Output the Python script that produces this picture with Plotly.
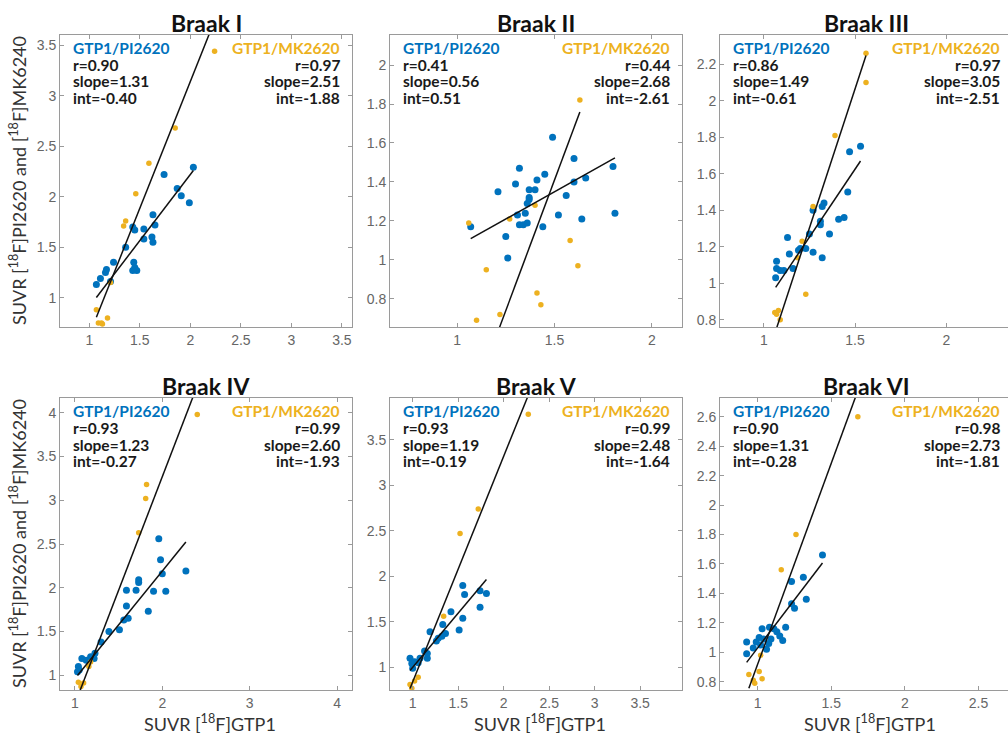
import plotly.graph_objects as go

# ---------------- data ----------------
panel_titles = ["Braak I", "Braak II", "Braak III", "Braak IV", "Braak V", "Braak VI"]

b1_pi_x = [1.07, 1.11, 1.16, 1.17, 1.21, 1.24, 1.36, 1.43, 1.45, 1.44, 1.45, 1.47, 1.43, 1.54, 1.54, 1.62, 1.63, 1.63, 1.65, 1.74, 1.87, 1.91, 1.99, 2.03]
b1_pi_y = [1.13, 1.19, 1.25, 1.28, 1.16, 1.35, 1.50, 1.70, 1.67, 1.35, 1.30, 1.27, 1.27, 1.68, 1.58, 1.60, 1.55, 1.82, 1.72, 2.22, 2.08, 2.01, 1.94, 2.29]
b1_mk_x = [1.07, 1.09, 1.12, 1.13, 1.18, 1.21, 1.34, 1.36, 1.46, 1.59, 1.85, 2.24]
b1_mk_y = [0.88, 0.75, 0.75, 0.74, 0.80, 1.15, 1.71, 1.76, 2.03, 2.33, 2.68, 3.44]

b2_pi_x = [1.07, 1.21, 1.25, 1.26, 1.30, 1.32, 1.31, 1.32, 1.34, 1.36, 1.35, 1.37, 1.37, 1.36, 1.37, 1.40, 1.41, 1.44, 1.45, 1.49, 1.52, 1.56, 1.60, 1.60, 1.64, 1.66, 1.80, 1.81]
b2_pi_y = [1.17, 1.35, 1.12, 1.01, 1.39, 1.47, 1.23, 1.18, 1.18, 1.19, 1.24, 1.32, 1.31, 1.29, 1.36, 1.36, 1.41, 1.17, 1.44, 1.63, 1.23, 1.33, 1.52, 1.40, 1.21, 1.42, 1.48, 1.24]
b2_mk_x = [1.06, 1.10, 1.15, 1.22, 1.27, 1.40, 1.41, 1.43, 1.58, 1.62, 1.63]
b2_mk_y = [1.19, 0.69, 0.95, 0.72, 1.21, 1.28, 0.83, 0.77, 1.10, 0.97, 1.82]

b3_pi_x = [1.065, 1.07, 1.07, 1.09, 1.11, 1.16, 1.13, 1.14, 1.19, 1.20, 1.23, 1.25, 1.27, 1.27, 1.32, 1.33, 1.31, 1.31, 1.32, 1.36, 1.41, 1.44, 1.46, 1.47, 1.53]
b3_pi_y = [1.03, 1.12, 1.08, 1.07, 1.07, 1.08, 1.25, 1.16, 1.18, 1.19, 1.19, 1.27, 1.17, 1.40, 1.42, 1.44, 1.34, 1.32, 1.14, 1.27, 1.35, 1.36, 1.50, 1.72, 1.75]
b3_mk_x = [1.06, 1.07, 1.09, 1.08, 1.185, 1.21, 1.23, 1.27, 1.39, 1.56, 1.56]
b3_mk_y = [0.84, 0.83, 0.80, 0.85, 1.14, 1.23, 0.94, 1.42, 1.81, 2.10, 2.26]

b4_pi_x = [1.03, 1.04, 1.05, 1.08, 1.13, 1.18, 1.22, 1.23, 1.30, 1.39, 1.51, 1.56, 1.61, 1.59, 1.59, 1.70, 1.73, 1.73, 1.84, 1.90, 1.96, 1.98, 2.00, 2.04, 2.27]
b4_pi_y = [1.04, 1.10, 1.06, 1.19, 1.17, 1.21, 1.19, 1.25, 1.38, 1.50, 1.52, 1.63, 1.65, 1.79, 1.97, 1.97, 2.06, 2.09, 1.73, 1.96, 2.56, 2.32, 2.16, 1.96, 2.19]
b4_mk_x = [1.04, 1.10, 1.07, 1.16, 1.18, 1.73, 1.81, 1.82, 2.40]
b4_mk_y = [0.92, 0.91, 0.87, 1.10, 1.15, 2.63, 3.02, 3.18, 3.98]

b5_pi_x = [0.97, 0.99, 1.02, 1.00, 1.06, 1.08, 1.13, 1.16, 1.16, 1.19, 1.26, 1.28, 1.32, 1.33, 1.36, 1.42, 1.51, 1.55, 1.55, 1.57, 1.74, 1.74, 1.81]
b5_pi_y = [1.10, 1.04, 1.06, 0.99, 1.05, 1.10, 1.18, 1.10, 1.15, 1.39, 1.29, 1.32, 1.34, 1.47, 1.37, 1.61, 1.41, 1.90, 1.54, 1.80, 1.84, 1.66, 1.81]
b5_mk_x = [0.97, 0.99, 1.06, 1.02, 1.34, 1.52, 1.72, 2.27]
b5_mk_y = [0.81, 0.77, 0.89, 0.85, 1.56, 2.47, 2.74, 3.78]

b6_pi_x = [0.925, 0.925, 0.97, 0.99, 1.01, 1.02, 1.04, 1.06, 1.075, 1.03, 1.08, 1.09, 1.11, 1.13, 1.15, 1.17, 1.19, 1.23, 1.23, 1.25, 1.31, 1.33, 1.44]
b6_pi_y = [0.99, 1.07, 1.03, 1.07, 1.10, 1.05, 1.09, 1.02, 1.06, 1.16, 1.17, 1.09, 1.16, 1.14, 1.11, 1.08, 1.17, 1.33, 1.48, 1.30, 1.51, 1.36, 1.66]
b6_mk_x = [0.94, 0.97, 0.98, 1.01, 1.03, 1.02, 1.16, 1.26, 1.68]
b6_mk_y = [0.85, 0.81, 0.79, 0.87, 0.82, 0.98, 1.56, 1.80, 2.60]

pi_r = [0.90, 0.41, 0.86, 0.93, 0.93, 0.90]
pi_slope = [1.31, 0.56, 1.49, 1.23, 1.19, 1.31]
pi_int = [-0.40, 0.51, -0.61, -0.27, -0.19, -0.28]
mk_r = [0.97, 0.44, 0.97, 0.99, 0.99, 0.98]
mk_slope = [2.51, 2.68, 3.05, 2.60, 2.48, 2.73]
mk_int = [-1.88, -2.61, -2.51, -1.93, -1.64, -1.81]

axis_lo = [0.71, 0.656, 0.76, 0.83, 0.75, 0.744]
axis_hi = [3.60, 2.154, 2.36, 4.17, 3.96, 2.727]
x_ticks = [[1, 1.5, 2, 2.5, 3, 3.5], [1, 1.5, 2], [1, 1.5, 2],
           [1, 2, 3, 4], [1, 1.5, 2, 2.5, 3, 3.5], [1, 1.5, 2, 2.5]]
y_ticks = [[1, 1.5, 2, 2.5, 3, 3.5], [0.8, 1, 1.2, 1.4, 1.6, 1.8, 2],
           [0.8, 1, 1.2, 1.4, 1.6, 1.8, 2, 2.2],
           [1, 1.5, 2, 2.5, 3, 3.5, 4], [1, 1.5, 2, 2.5, 3, 3.5],
           [0.8, 1, 1.2, 1.4, 1.6, 1.8, 2, 2.2, 2.4, 2.6]]

series_label_pi = "GTP1/PI2620"
series_label_mk = "GTP1/MK2620"
y_title = "SUVR [<sup>18</sup>F]PI2620 and [<sup>18</sup>F]MK6240"
x_title = "SUVR [<sup>18</sup>F]GTP1"

pi_xs = [b1_pi_x, b2_pi_x, b3_pi_x, b4_pi_x, b5_pi_x, b6_pi_x]
pi_ys = [b1_pi_y, b2_pi_y, b3_pi_y, b4_pi_y, b5_pi_y, b6_pi_y]
mk_xs = [b1_mk_x, b2_mk_x, b3_mk_x, b4_mk_x, b5_mk_x, b6_mk_x]
mk_ys = [b1_mk_y, b2_mk_y, b3_mk_y, b4_mk_y, b5_mk_y, b6_mk_y]

# ---------------- layout geometry ----------------
W, H = 1008, 738
BLUE = "#0072BD"
GOLD = "#EDB120"
TXT_FONT = "Lato"
col_left = [60, 390, 720]
row_top = [35, 398]
SIZE = 292

def fx(p):
    return p / W

def fy(p):
    return 1 - p / H

fig = go.Figure()
annotations = []
layout = dict(
    width=W, height=H, autosize=False,
    margin=dict(l=0, r=0, t=0, b=0),
    paper_bgcolor="white", plot_bgcolor="white",
    showlegend=False,
)

for i in range(6):
    r, c = divmod(i, 3)
    left = col_left[c]
    top = row_top[r]
    right_full = left + SIZE
    right = min(right_full, W)
    lo, hi = axis_lo[i], axis_hi[i]
    x_hi = lo + (hi - lo) * (right - left) / SIZE
    sfx = "" if i == 0 else str(i + 1)
    xa, ya = "x" + sfx, "y" + sfx

    common = dict(
        showgrid=False, zeroline=False, showline=True, linecolor="#9a9a9a",
        linewidth=1, ticks="inside", ticklen=4, tickcolor="#9a9a9a",
        tickfont=dict(family="Liberation Sans", size=14, color="#666666"),
    )
    layout["xaxis" + sfx] = dict(
        common, domain=[fx(left), fx(right)], range=[lo, x_hi],
        tickvals=x_ticks[i], anchor=ya, mirror="ticks",
    )
    layout["yaxis" + sfx] = dict(
        common, domain=[fy(top + SIZE), fy(top)], range=[lo, hi],
        tickvals=y_ticks[i], anchor=xa,
        mirror="ticks" if right == right_full else False,
    )

    fig.add_trace(go.Scatter(x=pi_xs[i], y=pi_ys[i], mode="markers", xaxis=xa, yaxis=ya,
                             marker=dict(color=BLUE, size=7, line=dict(width=0))))
    fig.add_trace(go.Scatter(x=mk_xs[i], y=mk_ys[i], mode="markers", xaxis=xa, yaxis=ya,
                             marker=dict(color=GOLD, size=5.5, line=dict(width=0))))
    px0, px1 = min(pi_xs[i]), max(pi_xs[i])
    fig.add_trace(go.Scatter(x=[px0, px1],
                             y=[pi_slope[i] * px0 + pi_int[i], pi_slope[i] * px1 + pi_int[i]],
                             mode="lines", xaxis=xa, yaxis=ya,
                             line=dict(color="#111111", width=1.5)))
    mx0, mx1 = min(mk_xs[i]), max(mk_xs[i])
    fig.add_trace(go.Scatter(x=[mx0, mx1],
                             y=[mk_slope[i] * mx0 + mk_int[i], mk_slope[i] * mx1 + mk_int[i]],
                             mode="lines", xaxis=xa, yaxis=ya,
                             line=dict(color="#111111", width=1.5)))

    # title
    annotations.append(dict(x=fx(left + SIZE / 2), y=fy(top - 12), xref="paper", yref="paper",
                            text="<b>%s</b>" % panel_titles[i], showarrow=False,
                            xanchor="center", yanchor="middle",
                            font=dict(family=TXT_FONT, size=23, color="#111111")))
    # stats text
    left_lines = [(series_label_pi, BLUE), ("r=%.2f" % pi_r[i], "#1a1a1a"),
                  ("slope=%.2f" % pi_slope[i], "#1a1a1a"), ("int=%.2f" % pi_int[i], "#1a1a1a")]
    right_lines = [(series_label_mk, GOLD), ("r=%.2f" % mk_r[i], "#1a1a1a"),
                   ("slope=%.2f" % mk_slope[i], "#1a1a1a"), ("int=%.2f" % mk_int[i], "#1a1a1a")]
    offs = [13, 30, 46.5, 63]
    for (t, col), o in zip(left_lines, offs):
        annotations.append(dict(x=fx(left + 11), y=fy(top + o), xref="paper", yref="paper",
                                text="<b>%s</b>" % t, showarrow=False, xanchor="left",
                                yanchor="middle",
                                font=dict(family=TXT_FONT, size=15.5, color=col)))
    for (t, col), o in zip(right_lines, offs):
        annotations.append(dict(x=fx(right_full - 10), y=fy(top + o), xref="paper", yref="paper",
                                text="<b>%s</b>" % t, showarrow=False, xanchor="right",
                                yanchor="middle",
                                font=dict(family=TXT_FONT, size=15.5, color=col)))
    if c == 0:
        annotations.append(dict(x=fx(18), y=fy(top + SIZE / 2), xref="paper", yref="paper",
                                text=y_title, showarrow=False, textangle=-90,
                                xanchor="center", yanchor="middle",
                                font=dict(family=TXT_FONT, size=18, color="#333333")))
    if r == 1:
        annotations.append(dict(x=fx(left + SIZE / 2 + 4), y=fy(723), xref="paper", yref="paper",
                                text=x_title, showarrow=False,
                                xanchor="center", yanchor="middle",
                                font=dict(family=TXT_FONT, size=18, color="#333333")))

layout["annotations"] = annotations
fig.update_layout(**layout)
fig.write_html("out.html")
